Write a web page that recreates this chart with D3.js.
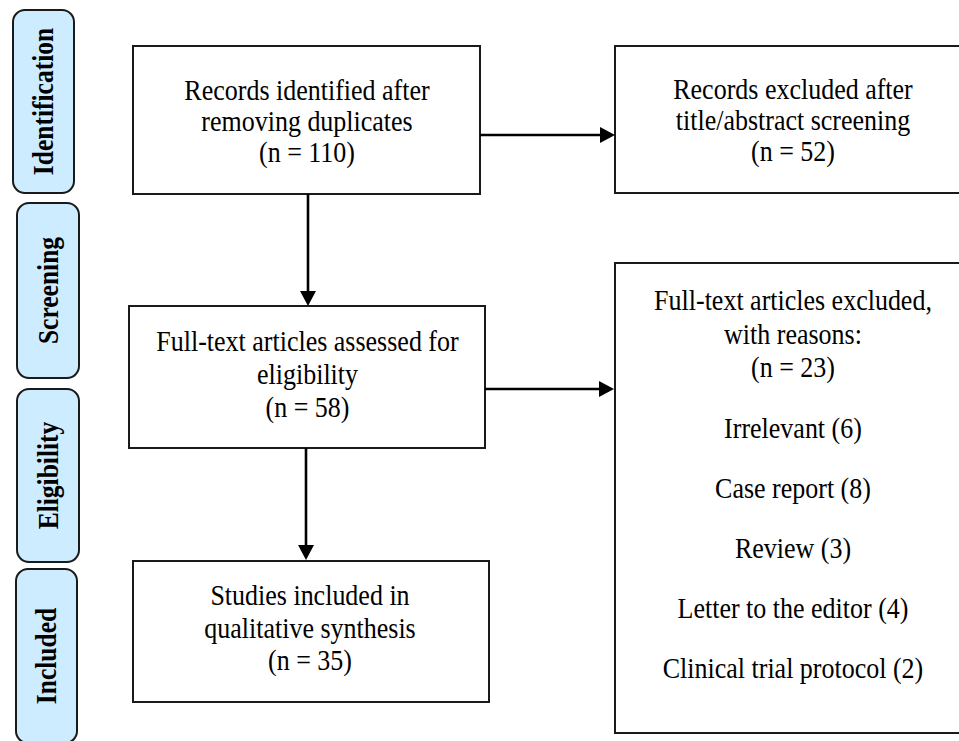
<!DOCTYPE html>
<html>
<head>
<meta charset="utf-8">
<script src="https://cdn.jsdelivr.net/npm/d3@7"></script>
<style>
  html, body { margin: 0; padding: 0; background: #ffffff; }
  svg { display: block; }
</style>
</head>
<body>
<div id="chart"></div>
<script>
// ---- Data ----
const stageLabels = ["Identification", "Screening", "Eligibility", "Included"];

const identifiedLines = ["Records identified after", "removing duplicates"];
const identifiedCount = 110;

const excludedTitleLines = ["Records excluded after", "title/abstract screening"];
const excludedTitleCount = 52;

const assessedLines = ["Full-text articles assessed for", "eligibility"];
const assessedCount = 58;

const includedLines = ["Studies included in", "qualitative synthesis"];
const includedCount = 35;

const fullTextExcludedLines = ["Full-text articles excluded,", "with reasons:"];
const fullTextExcludedCount = 23;

const reasonLabels = ["Irrelevant", "Case report", "Review", "Letter to the editor", "Clinical trial protocol"];
const reasonCounts = [6, 8, 3, 4, 2];

// ---- Layout ----
const W = 959, H = 741;
const serif = "'Liberation Serif', 'Times New Roman', Times, serif";
const stretch = 1.15;

const svg = d3.select("#chart").append("svg")
  .attr("width", W).attr("height", H)
  .attr("viewBox", `0 0 ${W} ${H}`);

// Stage side labels
const stageBoxes = [
  { x: 13, y: 10, w: 61, h: 183 },
  { x: 17, y: 203, w: 62, h: 175 },
  { x: 17, y: 389, w: 62, h: 173 },
  { x: 16, y: 569, w: 61, h: 174 }
];
const stageG = svg.append("g").selectAll("g")
  .data(stageLabels.map((label, i) => ({ label, ...stageBoxes[i] })))
  .join("g");
stageG.append("rect")
  .attr("x", d => d.x).attr("y", d => d.y)
  .attr("width", d => d.w).attr("height", d => d.h)
  .attr("rx", 12).attr("ry", 12)
  .attr("fill", "#cdecff")
  .attr("stroke", "#1a1a1a").attr("stroke-width", 2);
stageG.append("text")
  .attr("transform", d => `translate(${d.x + d.w / 2},${d.y + d.h / 2}) rotate(-90) scale(1,${stretch})`)
  .attr("text-anchor", "middle")
  .attr("dominant-baseline", "central")
  .attr("font-family", serif)
  .attr("font-weight", "bold")
  .attr("font-size", 25.5)
  .attr("fill", "#000")
  .text(d => d.label);

// Main boxes
const boxes = [
  { x: 133, y: 46, w: 347, h: 148, cx: 307, base: 100, lh: 31, lines: [...identifiedLines, `(n = ${identifiedCount})`] },
  { x: 615, y: 46, w: 360, h: 147, cx: 793, base: 99, lh: 31, lines: [...excludedTitleLines, `(n = ${excludedTitleCount})`] },
  { x: 129, y: 306, w: 356, h: 142, cx: 307.5, base: 351, lh: 33, lines: [...assessedLines, `(n = ${assessedCount})`] },
  { x: 133, y: 561, w: 356, h: 141, cx: 310, base: 605, lh: 32.5, lines: [...includedLines, `(n = ${includedCount})`] }
];

function serifText(sel) {
  return sel.attr("text-anchor", "middle")
    .attr("font-family", serif)
    .attr("font-size", 26)
    .attr("fill", "#000");
}

const boxG = svg.append("g").selectAll("g").data(boxes).join("g");
boxG.append("rect")
  .attr("x", d => d.x).attr("y", d => d.y)
  .attr("width", d => d.w).attr("height", d => d.h)
  .attr("fill", "#ffffff")
  .attr("stroke", "#1a1a1a").attr("stroke-width", 2);
boxG.each(function(d) {
  d3.select(this).selectAll("text").data(d.lines).join("text")
    .attr("transform", (t, i) => `translate(${d.cx},${d.base + i * d.lh}) scale(1,${stretch})`)
    .call(serifText)
    .text(t => t);
});

// Big exclusion box with reasons
const bigBox = { x: 615, y: 263, w: 360, h: 470, cx: 793 };
svg.append("rect")
  .attr("x", bigBox.x).attr("y", bigBox.y)
  .attr("width", bigBox.w).attr("height", bigBox.h)
  .attr("fill", "#ffffff")
  .attr("stroke", "#1a1a1a").attr("stroke-width", 2);

const headerLines = [...fullTextExcludedLines, `(n = ${fullTextExcludedCount})`];
svg.append("g").selectAll("text").data(headerLines).join("text")
  .attr("transform", (t, i) => `translate(${bigBox.cx},${310 + i * 33.5}) scale(1,${stretch})`)
  .call(serifText)
  .text(t => t);

const reasonY = d3.scalePoint().domain(reasonLabels).range([438, 678]);
svg.append("g").selectAll("text").data(reasonLabels).join("text")
  .attr("transform", d => `translate(${bigBox.cx},${reasonY(d)}) scale(1,${stretch})`)
  .call(serifText)
  .text((d, i) => `${d} (${reasonCounts[i]})`);

// Arrows
const arrows = [
  { x1: 480, y1: 135, x2: 615, y2: 135 },
  { x1: 485, y1: 389, x2: 614, y2: 389 },
  { x1: 308, y1: 194, x2: 308, y2: 306 },
  { x1: 306, y1: 448, x2: 306, y2: 560 }
];
const headLen = 15, headHalf = 8;
const arrowG = svg.append("g").selectAll("g").data(arrows).join("g");
arrowG.append("line")
  .attr("x1", d => d.x1).attr("y1", d => d.y1)
  .attr("x2", d => d.x2 - Math.sign(d.x2 - d.x1) * headLen * 0.6)
  .attr("y2", d => d.y2 - Math.sign(d.y2 - d.y1) * headLen * 0.6)
  .attr("stroke", "#000").attr("stroke-width", 2.6);
arrowG.append("path")
  .attr("d", d => {
    const dx = Math.sign(d.x2 - d.x1), dy = Math.sign(d.y2 - d.y1);
    const bx = d.x2 - dx * headLen, by = d.y2 - dy * headLen;
    const px = -dy, py = dx;
    const p = d3.path();
    p.moveTo(d.x2, d.y2);
    p.lineTo(bx + px * headHalf, by + py * headHalf);
    p.lineTo(bx - px * headHalf, by - py * headHalf);
    p.closePath();
    return p.toString();
  })
  .attr("fill", "#000");
</script>
</body>
</html>
